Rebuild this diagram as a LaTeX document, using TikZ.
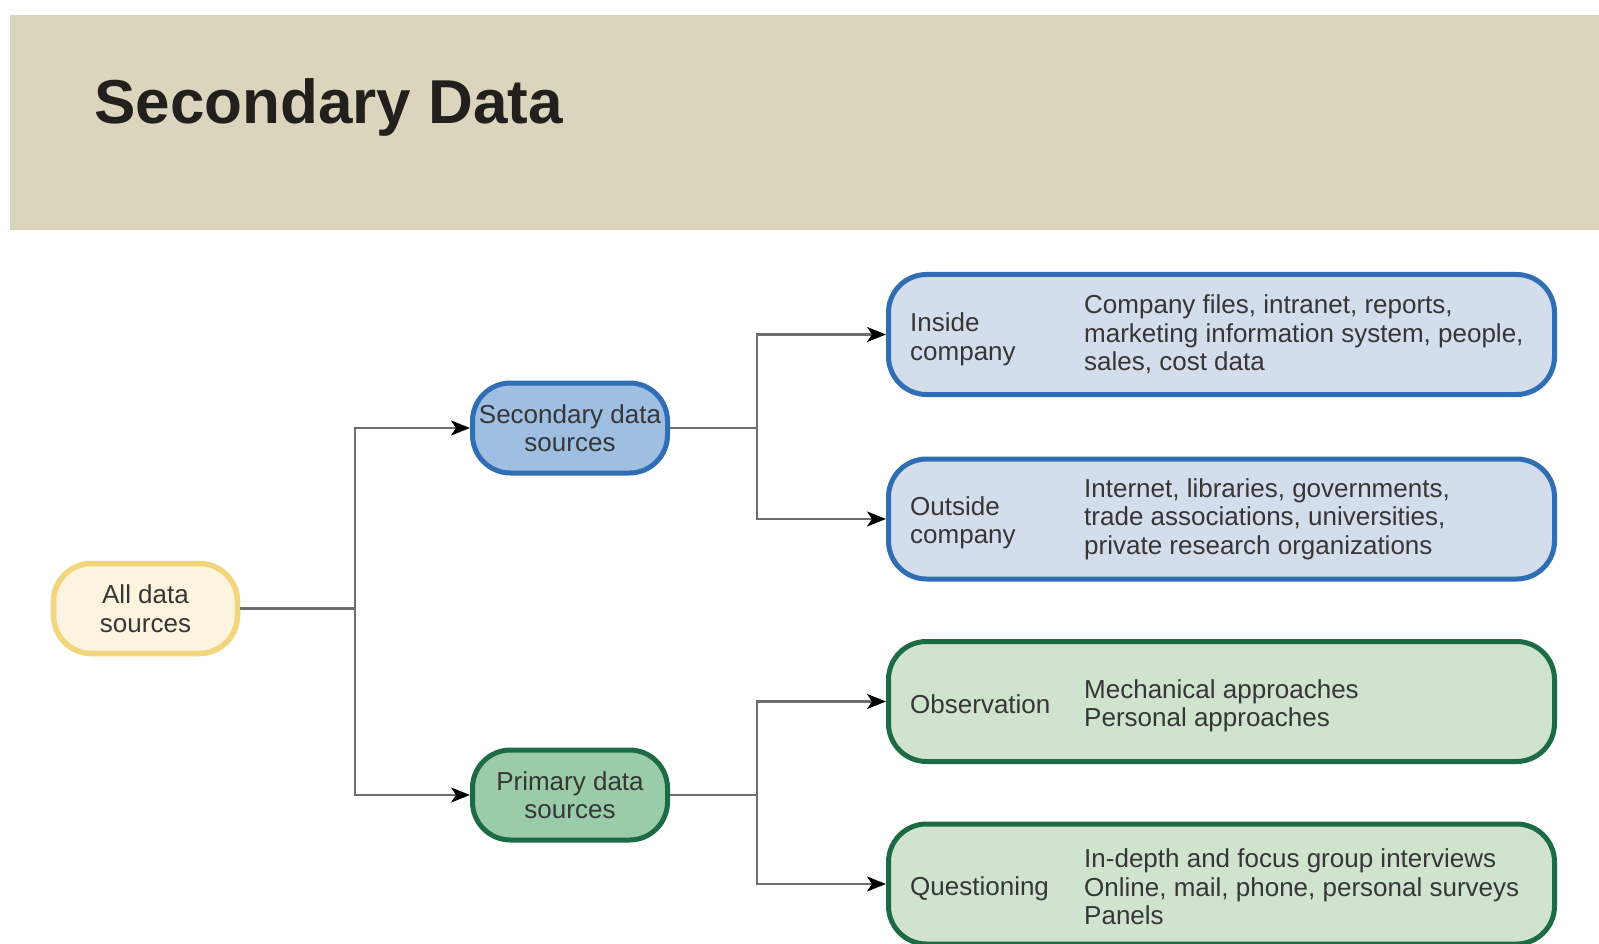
\documentclass[tikz,border=0pt]{standalone}
\usepackage{fontspec}
\setmainfont{Liberation Sans}
\usetikzlibrary{arrows.meta}

\definecolor{bannerfill}{HTML}{DBD5BD}
\definecolor{titletext}{HTML}{231F1C}
\definecolor{bodytext}{HTML}{363636}
\definecolor{yelline}{HTML}{F3D67B}
\definecolor{yelfill}{HTML}{FCF4DE}
\definecolor{blueline}{HTML}{2F6EB5}
\definecolor{bluedark}{HTML}{9EBEE2}
\definecolor{bluelight}{HTML}{D4DDEB}
\definecolor{greenline}{HTML}{1C6B45}
\definecolor{greendark}{HTML}{9ACCAA}
\definecolor{greenlight}{HTML}{D0E3CF}
\definecolor{connline}{HTML}{6E6E6E}

\newcommand{\bodyfont}{\fontsize{26}{28.5}\selectfont}

\tikzset{
  srcbox/.style={draw, line width=5pt, rounded corners=38pt,
    minimum height=90pt, align=center, inner sep=0pt,
    font=\bodyfont, text=bodytext},
  bigbox/.style={draw, line width=5pt, rounded corners=38pt,
    minimum width=666pt, minimum height=120pt, inner sep=0pt},
  boxlabel/.style={anchor=west, align=left, inner sep=0pt,
    font=\bodyfont, text=bodytext},
  conn/.style={draw=connline, line width=2.2pt},
  connarrow/.style={conn, -{Stealth[length=19pt,width=15pt,inset=5pt,color=black]}}
}

\begin{document}
\begin{tikzpicture}[x=1pt,y=-1pt]
\useasboundingbox (0,0) rectangle (1599,944);
\clip (0,0) rectangle (1599,944);
\fill[white] (0,0) rectangle (1599,944);

% title banner
\fill[bannerfill] (10,15) rectangle (1599,230);
\node[anchor=base west, inner sep=0pt, text=titletext,
      font=\fontsize{62}{70}\selectfont\bfseries] (title) at (94,124) {Secondary Data};

% source nodes
\node[srcbox, minimum width=184pt, draw=yelline, fill=yelfill, line width=5.5pt] (all) at (145.5,608.5) {All data\\sources};
\node[srcbox, minimum width=195pt, draw=blueline, fill=bluedark] (sec) at (570,428) {Secondary data\\sources};
\node[srcbox, minimum width=195pt, draw=greenline, fill=greendark] (pri) at (570,795) {Primary data\\sources};

% detail boxes
\node[bigbox, draw=blueline, fill=bluelight] (inside) at (1221.5,334.5) {};
\node[bigbox, draw=blueline, fill=bluelight] (outside) at (1221.5,519) {};
\node[bigbox, draw=greenline, fill=greenlight] (obs) at (1221.5,701.5) {};
\node[bigbox, draw=greenline, fill=greenlight] (quest) at (1221.5,884) {};

% texts inside the detail boxes
\node[boxlabel] (insideL) at (910,339.5) {Inside\\company};
\node[boxlabel] (insideR) at (1084,334.5) {Company files, intranet, reports,\\marketing information system, people,\\sales, cost data};
\node[boxlabel] (outsideL) at (910,523) {Outside\\company};
\node[boxlabel] (outsideR) at (1084,519) {Internet, libraries, governments,\\trade associations, universities,\\private research organizations};
\node[boxlabel] (obsL) at (910,704) {Observation};
\node[boxlabel] (obsR) at (1084,706) {Mechanical approaches\\Personal approaches};
\node[boxlabel] (questL) at (910,889) {Questioning};
\node[boxlabel] (questR) at (1084,887) {In-depth and focus group interviews\\Online, mail, phone, personal surveys\\Panels};

% branching connectors
\coordinate (j1) at (355,608.5);
\coordinate (j2) at (757,428);
\coordinate (j3) at (757,795);

\draw[conn] (all.east) -- (j1);
\draw[connarrow] (j1) |- (sec.west);
\draw[connarrow] (j1) |- (pri.west);

\draw[conn] (sec.east) -- (j2);
\draw[connarrow] (j2) |- (inside.west);
\draw[connarrow] (j2) |- (outside.west);

\draw[conn] (pri.east) -- (j3);
\draw[connarrow] (j3) |- (obs.west);
\draw[connarrow] (j3) |- (quest.west);
\end{tikzpicture}
\end{document}
